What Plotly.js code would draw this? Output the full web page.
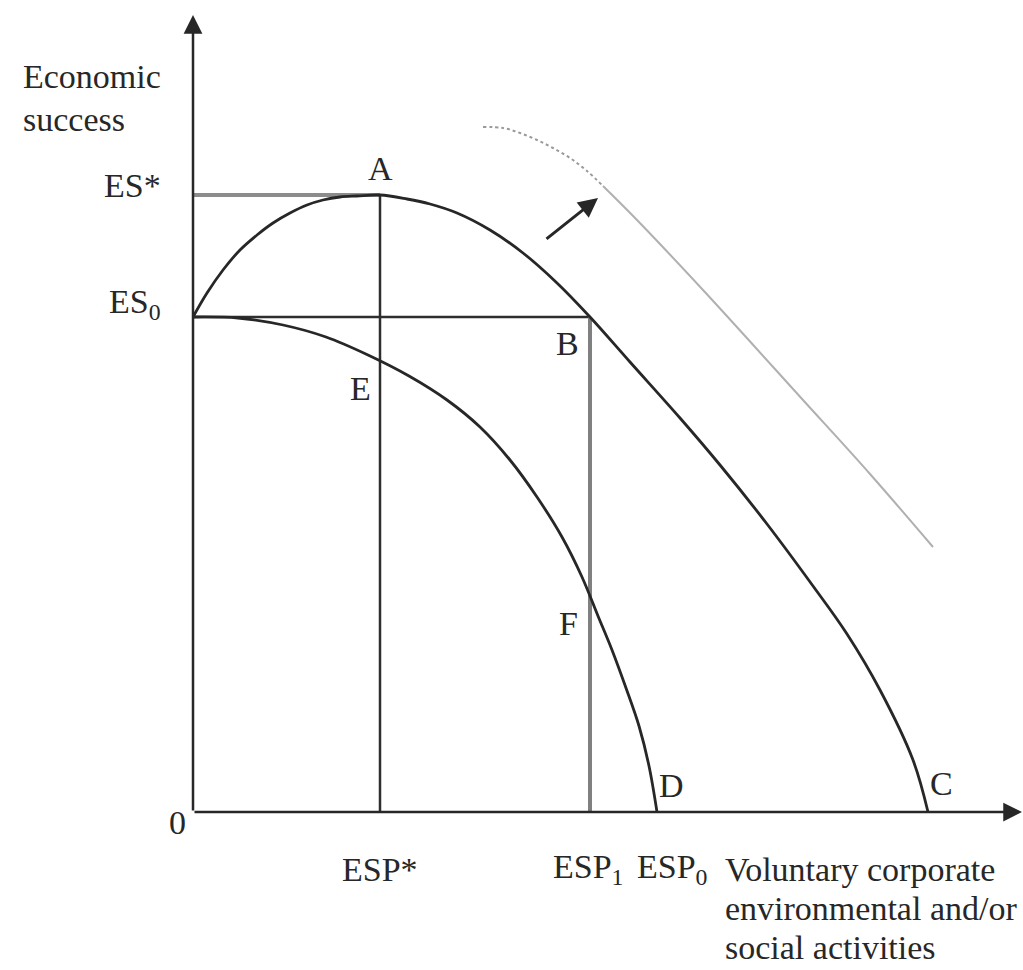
<!DOCTYPE html>
<html>
<head>
<meta charset="utf-8">
<script src="https://cdn.plot.ly/plotly-3.0.1.min.js"></script>
<style>
  html, body { margin: 0; padding: 0; background: #ffffff; }
  #chart { width: 1023px; height: 970px; }
</style>
</head>
<body>
<div id="chart"></div>
<script>
// data: units are arbitrary, origin at 0 / 0

// levels on the axes
const esStar = 617;
const es0 = 495;
const espStar = 187;
const esp1 = 397;

// upper curve ES0 -> A -> B -> C
const upperX = [0, 14, 30, 47, 64, 80, 97, 114, 130, 147, 164, 187, 214, 237, 264, 297, 330, 364, 397, 437, 487, 527, 574, 620, 654, 687, 720, 735];
const upperY = [495, 519, 542, 562, 577, 589, 599, 607, 612, 615, 616, 617, 613, 608, 599, 582, 559, 529, 495, 450, 394, 347, 288, 226, 178, 122, 52, 0];

// lower curve ES0 -> E -> F -> D
const lowerX = [0, 45, 90, 133, 175, 216, 254, 287, 317, 344, 369, 389, 405, 419, 433, 446, 456, 464];
const lowerY = [495, 494, 487, 475, 457, 436, 412, 385, 352, 315, 275, 235, 196, 162, 124, 86, 46, 0];

// shifted curve (grey): dotted start, then solid
const shiftDotX = [290, 310, 327, 344, 360, 377, 394, 410];
const shiftDotY = [685, 684, 679, 672, 664, 654, 641, 626];
const shiftX = [410, 444, 510, 610, 677, 740];
const shiftY = [626, 592, 522, 412, 338, 265];

// arrow showing the shift (tail, head)
const shiftArrowX = [352, 405];
const shiftArrowY = [572, 614];

// point labels
const pointLabels = ["A", "B", "E", "F", "D", "C"];
const pointLabelX = [187, 374, 167, 375, 478, 748];
const pointLabelY = [644, 469, 424, 189, 27, 29];

// axis labels
const xTickText = ["ESP*", "ESP<sub>1</sub>", "ESP<sub>0</sub>"];
const xTickPos = [187, 395, 479];
const xTitleLines = ["Voluntary corporate", "environmental and/or", "social activities"];
const yTitleLines = ["Economic", "success"];
const yTickText = ["ES*", "ES<sub>0</sub>"];
const yTickPos = [627, 508];

const ink = "#272727";
const font = { family: "Liberation Serif, Times New Roman, serif", size: 34, color: ink };

// Block 1 – line traces
function lineTrace(x, y, line) {
  return {
    x: x,
    y: y,
    mode: "lines",
    line: line,
    hoverinfo: "skip",
    showlegend: false
  };
}

const traces = [
  // guide lines
  lineTrace([0, espStar], [esStar, esStar], { color: "#8c8c8c", width: 4 }),
  lineTrace([espStar, espStar], [esStar, 0], { color: "#2e2e2e", width: 2.5 }),
  lineTrace([0, esp1], [es0, es0], { color: "#2e2e2e", width: 2.5 }),
  lineTrace([esp1, esp1], [es0, 0], { color: "#808080", width: 4 }),
  // curves
  lineTrace(upperX, upperY, { color: ink, width: 2.8, shape: "spline", smoothing: 1 }),
  lineTrace(lowerX, lowerY, { color: ink, width: 2.8, shape: "spline", smoothing: 1 }),
  lineTrace(shiftDotX, shiftDotY, { color: "#9a9a9a", width: 2, dash: "dot", shape: "spline", smoothing: 1 }),
  lineTrace(shiftX, shiftY, { color: "#b0b0b0", width: 2, shape: "spline", smoothing: 1 })
];

// Block 2 – annotations: axes arrows, shift arrow and texts
function arrow(x0, y0, x1, y1, width, size) {
  return {
    x: x1, y: y1, ax: x0, ay: y0,
    xref: "x", yref: "y", axref: "x", ayref: "y",
    text: "",
    showarrow: true,
    arrowhead: 2,
    arrowsize: size,
    arrowwidth: width,
    arrowcolor: ink,
    standoff: 0,
    startstandoff: 0
  };
}

function label(text, x, y, xanchor) {
  return {
    x: x, y: y, xref: "x", yref: "y",
    text: text,
    showarrow: false,
    xanchor: xanchor || "center",
    yanchor: "middle",
    font: font
  };
}

const annotations = [
  arrow(0, 0, 0, 797, 2.5, 1.5),
  arrow(0, 0, 829, 0, 2.5, 1.5),
  arrow(shiftArrowX[0], shiftArrowY[0], shiftArrowX[1], shiftArrowY[1], 3, 1.3),
  label("0", -16, -10)
];

yTitleLines.forEach((t, i) => annotations.push(label(t, -172, 736 - i * 43, "left")));
xTitleLines.forEach((t, i) => annotations.push(label(t, 530, -57 - i * 39, "left")));
yTickText.forEach((t, i) => annotations.push(label(t, -30, yTickPos[i], "right")));
xTickText.forEach((t, i) => annotations.push(label(t, xTickPos[i], -57)));
pointLabels.forEach((t, i) => annotations.push(label(t, pointLabelX[i], pointLabelY[i])));

const layout = {
  width: 1023,
  height: 970,
  margin: { t: 0, r: 0, b: 0, l: 0 },
  paper_bgcolor: "#ffffff",
  plot_bgcolor: "#ffffff",
  xaxis: { range: [-193, 830], visible: false, fixedrange: true },
  yaxis: { range: [-158, 812], visible: false, fixedrange: true },
  showlegend: false,
  annotations: annotations
};

Plotly.newPlot("chart", traces, layout, { displayModeBar: false, staticPlot: true });
</script>
</body>
</html>
